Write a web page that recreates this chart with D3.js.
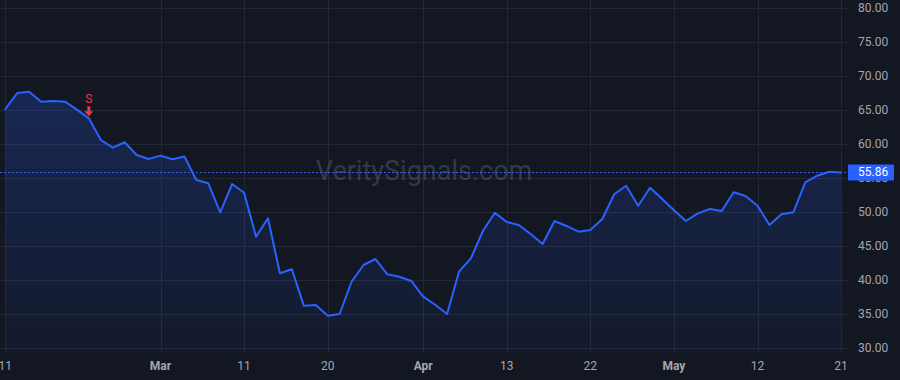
<!DOCTYPE html>
<html>
<head>
<meta charset="utf-8">
<script src="https://cdn.jsdelivr.net/npm/d3@7"></script>
<style>
  html, body { margin: 0; padding: 0; background: #131722; }
  svg { display: block; }
</style>
</head>
<body>
<svg id="chart" width="900" height="380"></svg>
<script>
// ---- data ----
const dates = [
  "2020-02-11","2020-02-12","2020-02-13","2020-02-14","2020-02-18","2020-02-19","2020-02-20","2020-02-21",
  "2020-02-24","2020-02-25","2020-02-26","2020-02-27","2020-02-28","2020-03-02","2020-03-03","2020-03-04",
  "2020-03-05","2020-03-06","2020-03-09","2020-03-10","2020-03-11","2020-03-12","2020-03-13","2020-03-16",
  "2020-03-17","2020-03-18","2020-03-19","2020-03-20","2020-03-23","2020-03-24","2020-03-25","2020-03-26",
  "2020-03-27","2020-03-30","2020-03-31","2020-04-01","2020-04-02","2020-04-03","2020-04-06","2020-04-07",
  "2020-04-08","2020-04-09","2020-04-13","2020-04-14","2020-04-15","2020-04-16","2020-04-17","2020-04-20",
  "2020-04-21","2020-04-22","2020-04-23","2020-04-24","2020-04-27","2020-04-28","2020-04-29","2020-04-30",
  "2020-05-01","2020-05-04","2020-05-05","2020-05-06","2020-05-07","2020-05-08","2020-05-11","2020-05-12",
  "2020-05-13","2020-05-14","2020-05-15","2020-05-18","2020-05-19","2020-05-20","2020-05-21"
];
const values = [
  65.19,67.54,67.74,66.27,66.37,66.27,65.10,63.82,
  60.63,59.50,60.30,58.43,57.84,58.33,57.79,58.20,
  54.75,54.26,50.00,54.16,52.88,46.41,49.12,41.03,
  41.62,36.27,36.37,34.79,35.04,39.79,42.25,43.13,
  40.88,40.53,39.90,37.59,36.40,35.04,41.27,43.24,
  47.25,49.94,48.57,48.13,46.81,45.34,48.72,47.99,
  47.15,47.40,49.01,52.65,53.91,50.97,53.62,52.00,
  50.30,48.72,49.85,50.49,50.19,52.94,52.40,50.97,
  48.13,49.71,50.00,54.41,55.38,55.97,55.86
];
const tickDates = ["2020-02-11","2020-03-02","2020-03-11","2020-03-20","2020-04-01","2020-04-13","2020-04-22","2020-05-01","2020-05-12","2020-05-21"];
const tickLabels = ["11","Mar","11","20","Apr","13","22","May","12","21"];
const yTicks = [30,35,40,45,50,55,60,65,70,75,80];
const lastPrice = 55.86;
const signalDates = ["2020-02-21"];
const signalLabels = ["S"];
const watermark = "VeritySignals.com";

// ---- layout ----
const W = 900, H = 380;
const plotRight = 848, plotBottom = 352;
const svg = d3.select("#chart");
svg.append("rect").attr("width", W).attr("height", H).attr("fill", "#131722");

const x = d3.scaleLinear().domain([0, dates.length - 1]).range([5.3, 841.1]);
const y = d3.scaleLinear().domain([30, 80]).range([348.3, 8.3]);
const idx = d => dates.indexOf(d);

const defs = svg.append("defs");
defs.append("clipPath").attr("id", "plotclip")
  .append("rect").attr("x", 0).attr("y", 0).attr("width", plotRight).attr("height", plotBottom);
defs.append("clipPath").attr("id", "axisclip")
  .append("rect").attr("x", plotRight).attr("y", 0).attr("width", W - plotRight).attr("height", plotBottom);
const grad = defs.append("linearGradient").attr("id", "areagrad")
  .attr("gradientUnits", "userSpaceOnUse")
  .attr("x1", 0).attr("x2", 0).attr("y1", y(d3.max(values))).attr("y2", plotBottom);
grad.append("stop").attr("offset", "0%").attr("stop-color", "#2962ff").attr("stop-opacity", 0.22);
grad.append("stop").attr("offset", "100%").attr("stop-color", "#2962ff").attr("stop-opacity", 0.04);

const plot = svg.append("g").attr("clip-path", "url(#plotclip)");

// grid
plot.append("g").selectAll("line").data(yTicks).join("line")
  .attr("x1", 0).attr("x2", plotRight)
  .attr("y1", d => Math.round(y(d)) + 0.5).attr("y2", d => Math.round(y(d)) + 0.5)
  .attr("stroke", "#242833").attr("stroke-width", 1);
plot.append("g").selectAll("line").data(tickDates).join("line")
  .attr("x1", d => Math.round(x(idx(d))) + 0.5).attr("x2", d => Math.round(x(idx(d))) + 0.5)
  .attr("y1", 0).attr("y2", plotBottom)
  .attr("stroke", "#242833").attr("stroke-width", 1);

// watermark
plot.append("text").attr("x", 424).attr("y", 171)
  .attr("text-anchor", "middle").attr("dominant-baseline", "central")
  .attr("font-family", "Roboto, sans-serif").attr("font-size", 27)
  .attr("fill", "#787b86").attr("fill-opacity", 0.34)
  .text(watermark);

// area + line
const area = d3.area().x((d, i) => x(i)).y0(plotBottom).y1(d => y(d));
const line = d3.line().x((d, i) => x(i)).y(d => y(d));
plot.append("path").datum(values).attr("d", area).attr("fill", "url(#areagrad)");
plot.append("path").datum(values).attr("d", line)
  .attr("fill", "none").attr("stroke", "#2962ff").attr("stroke-width", 2)
  .attr("stroke-linejoin", "round").attr("stroke-linecap", "round");

// last price dotted line
plot.append("line")
  .attr("x1", 0).attr("x2", plotRight)
  .attr("y1", Math.round(y(lastPrice)) + 0.5).attr("y2", Math.round(y(lastPrice)) + 0.5)
  .attr("stroke", "#2962ff").attr("stroke-width", 1).attr("stroke-dasharray", "2,2");

// signal markers
signalDates.forEach((d, k) => {
  const i = idx(d);
  const px = x(i), py = y(values[i]);
  const g = plot.append("g");
  const tip = py - 2;
  g.append("path")
    .attr("d", `M${px},${tip} L${px - 4.5},${tip - 5} L${px - 1.5},${tip - 5} L${px - 1.5},${tip - 10} L${px + 1.5},${tip - 10} L${px + 1.5},${tip - 5} L${px + 4.5},${tip - 5} Z`)
    .attr("fill", "#f23645");
  g.append("text").attr("x", px).attr("y", tip - 13)
    .attr("text-anchor", "middle")
    .attr("font-family", "Roboto, sans-serif").attr("font-size", 12)
    .attr("fill", "#f23645").text(signalLabels[k]);
});

// right axis
const axisG = svg.append("g").attr("clip-path", "url(#axisclip)");
axisG.selectAll("text").data(yTicks).join("text")
  .attr("x", 858).attr("y", d => y(d))
  .attr("dominant-baseline", "central")
  .attr("font-family", "Roboto, sans-serif").attr("font-size", 12)
  .attr("fill", "#a3a6af")
  .text(d => d3.format(".2f")(d));

// last price label
const ly = y(lastPrice);
svg.append("rect").attr("x", 848).attr("y", ly - 8).attr("width", 46).attr("height", 16)
  .attr("rx", 1).attr("fill", "#2962ff");
svg.append("text").attr("x", 858).attr("y", ly)
  .attr("dominant-baseline", "central")
  .attr("font-family", "Roboto, sans-serif").attr("font-size", 12)
  .attr("fill", "#ffffff").text(d3.format(".2f")(lastPrice));

// bottom axis
svg.append("g").selectAll("text").data(tickDates).join("text")
  .attr("x", d => x(idx(d))).attr("y", 366)
  .attr("text-anchor", "middle").attr("dominant-baseline", "central")
  .attr("font-family", "Roboto, sans-serif").attr("font-size", 12)
  .attr("font-weight", (d, i) => /^[A-Za-z]/.test(tickLabels[i]) ? "bold" : "normal")
  .attr("fill", "#a3a6af")
  .text((d, i) => tickLabels[i]);
</script>
</body>
</html>
